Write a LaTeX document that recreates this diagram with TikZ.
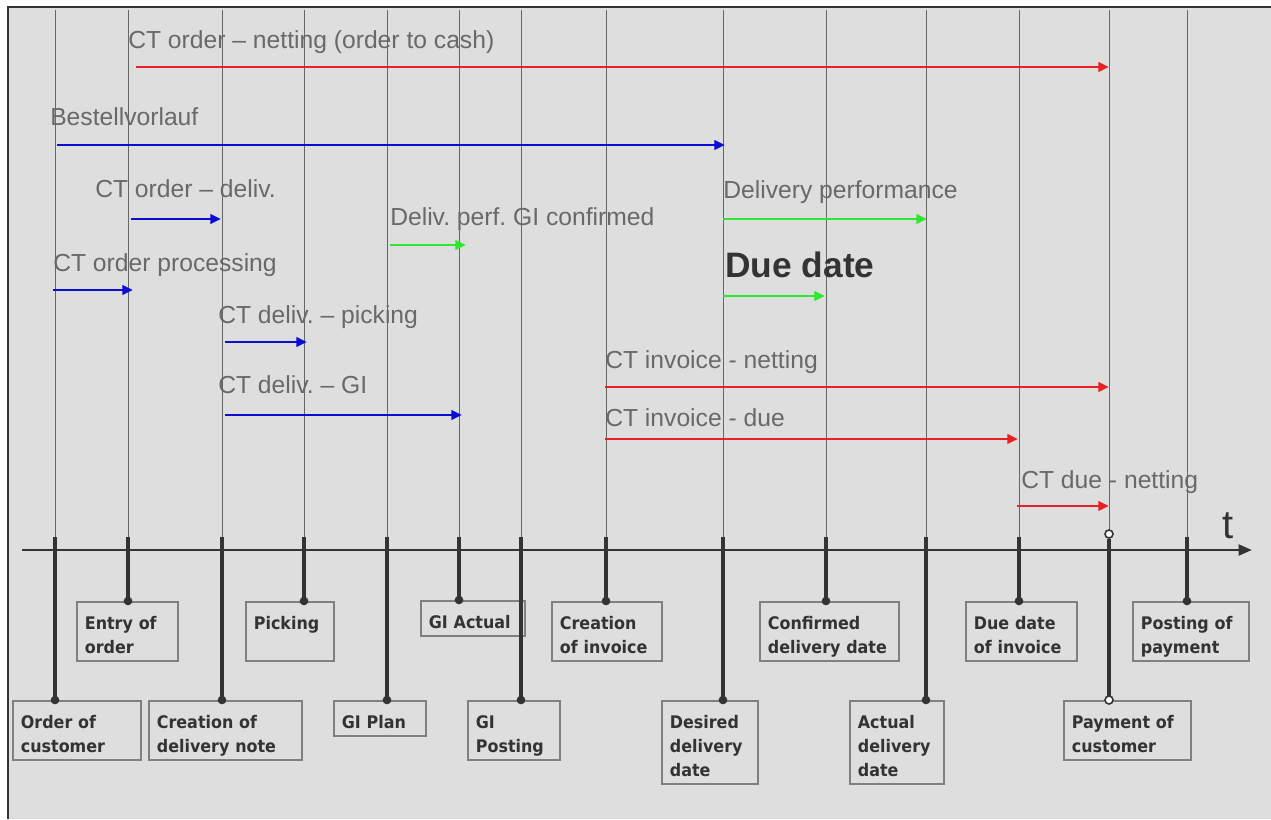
\documentclass[tikz,border=0pt]{standalone}
\usepackage{fontspec}
\setmainfont{Liberation Sans}
\newfontfamily\boxfont[FakeStretch=0.92]{DejaVu Sans}
\usetikzlibrary{arrows.meta}
\frenchspacing

\definecolor{bgray}{RGB}{222,222,222}
\definecolor{spanred}{RGB}{232,32,36}
\definecolor{spanblue}{RGB}{12,12,210}
\definecolor{spangreen}{RGB}{45,232,45}
\definecolor{inkgray}{RGB}{51,51,51}
\definecolor{lblgray}{RGB}{105,105,105}

\tikzset{
  timeline/.style={black!60, line width=0.7pt},
  stem/.style={inkgray, line width=2.6pt},
  dot/.style={circle, fill=inkgray, inner sep=0pt, minimum size=6.5pt},
  odot/.style={circle, draw=inkgray, fill=white, line width=1.2pt, inner sep=0pt, minimum size=6pt},
  stepbox/.style={draw=black!50, line width=1.3pt, anchor=north west, align=left,
    inner xsep=6pt, inner ysep=0pt, text=inkgray,
    font=\boxfont\bfseries\fontsize{13}{18}\selectfont,
    execute at begin node={\rule{0pt}{21pt}},
    execute at end node={\rule[-5.25pt]{0pt}{0pt}}},
  span/.style={line width=2.2pt, -{Triangle[length=8pt,width=7pt]}},
  lbl/.style={anchor=base west, text=lblgray, inner sep=0pt,
    font=\fontsize{18.5}{22}\selectfont},
}

\begin{document}
\begin{tikzpicture}[x=0.75pt, y=-0.75pt]
  \useasboundingbox (0,0) rectangle (1271,819);

  % Background and frame
  \fill[white] (0,0) rectangle (1271,819);
  \fill[bgray] (8,7) rectangle (1271,819);
  \draw[black!80, line width=1.5pt] (8,819) -- (8,7) -- (1271,7);

  % Time lines
  \foreach \nm/\xx in {ordercust/55, entry/128, credel/222, picking/304, giplan/387,
      giact/459, gipost/521, creinv/606, desired/723, confirmed/826, actual/926,
      duedate/1019, payment/1109, posting/1187} {
    \coordinate (k-\nm) at (\xx,537);
    \draw[timeline] (\xx,10) -- (\xx,550);
  }

  % Time axis
  \draw[inkgray, line width=2.2pt, -{Triangle[length=10pt,width=8pt]}] (22,550) -- (1252,550);
  \node[text=inkgray, anchor=base west, inner sep=0pt, font=\fontsize{30}{30}\selectfont] (tlabel) at (1222,538) {t};

  % Milestones
  \node[stepbox, text width=84pt] (ordercust) at (12,700) {Order of\\customer};
  \node[stepbox, text width=63.75pt] (entry) at (76,601) {Entry of\\order};
  \node[stepbox, text width=102.75pt] (credel) at (148,700) {Creation of\\delivery note};
  \node[stepbox, text width=54pt] (picking) at (245,601) {Picking\\\mbox{}};
  \node[stepbox, text width=57pt] (giplan) at (333,700) {GI Plan};
  \node[stepbox, text width=66pt] (giact) at (420,600) {GI Actual};
  \node[stepbox, text width=57pt] (gipost) at (467,700) {GI\\Posting};
  \node[stepbox, text width=70.5pt] (creinv) at (551,601) {Creation\\of invoice};
  \node[stepbox, text width=60pt] (desired) at (661,700) {Desired\\delivery\\date};
  \node[stepbox, text width=92.25pt] (confirmed) at (759,601) {Confirmed\\delivery date};
  \node[stepbox, text width=58.5pt] (actual) at (849,700) {Actual\\delivery\\date};
  \node[stepbox, text width=71.25pt] (duedate) at (965,601) {Due date\\of invoice};
  \node[stepbox, text width=83.25pt] (payment) at (1063,700) {Payment of\\customer};
  \node[stepbox, text width=75pt] (posting) at (1132,601) {Posting of\\payment};

  % Stems
  \foreach \nm in {ordercust, entry, credel, picking, giplan, giact, gipost, creinv,
      desired, confirmed, actual, duedate, posting}
    \draw[stem] (k-\nm) -- (k-\nm |- \nm.north) node[dot] {};
  \node[odot] (paytop) at (1109,534) {};
  \draw[stem] (paytop) -- (paytop |- payment.north) node[odot] {};

  % Red spans
  \draw[span, spanred] (136,67) -- (1109,67);
  \node[lbl] (o2c) at (128,48) {CT order – netting (order to cash)};
  \draw[span, spanred] (605,387) -- (1109,387);
  \node[lbl] (invnet) at (605,368) {CT invoice - netting};
  \draw[span, spanred] (605,439) -- (1018,439);
  \node[lbl] (invdue) at (605,426) {CT invoice - due};
  \draw[span, spanred] (1017,506) -- (1109,506);
  \node[lbl] (duenet) at (1021,488) {CT due - netting};

  % Blue spans
  \draw[span, spanblue] (57,145) -- (725,145);
  \node[lbl] (bestell) at (50,125) {Bestellvorlauf};
  \draw[span, spanblue] (131,219) -- (221,219);
  \node[lbl] (orddel) at (95,197) {CT order – deliv.};
  \draw[span, spanblue] (53,290) -- (133,290);
  \node[lbl] (ordproc) at (53,271) {CT order processing};
  \draw[span, spanblue] (225,342) -- (307,342);
  \node[lbl] (delpick) at (218,323) {CT deliv. – picking};
  \draw[span, spanblue] (225,415) -- (462,415);
  \node[lbl] (delgi) at (218,393) {CT deliv. – GI};

  % Green spans
  \draw[span, spangreen] (390,245) -- (466,245);
  \node[lbl] (perfgi) at (390,225) {Deliv. perf. GI confirmed};
  \draw[span, spangreen] (723,219) -- (927,219);
  \node[lbl] (delperf) at (723,198) {Delivery performance};
  \draw[span, spangreen] (723,296) -- (825,296);
  \node[lbl, text=inkgray, font=\bfseries\fontsize{26.5}{30}\selectfont] (due) at (725,277) {Due date};

\end{tikzpicture}
\end{document}
